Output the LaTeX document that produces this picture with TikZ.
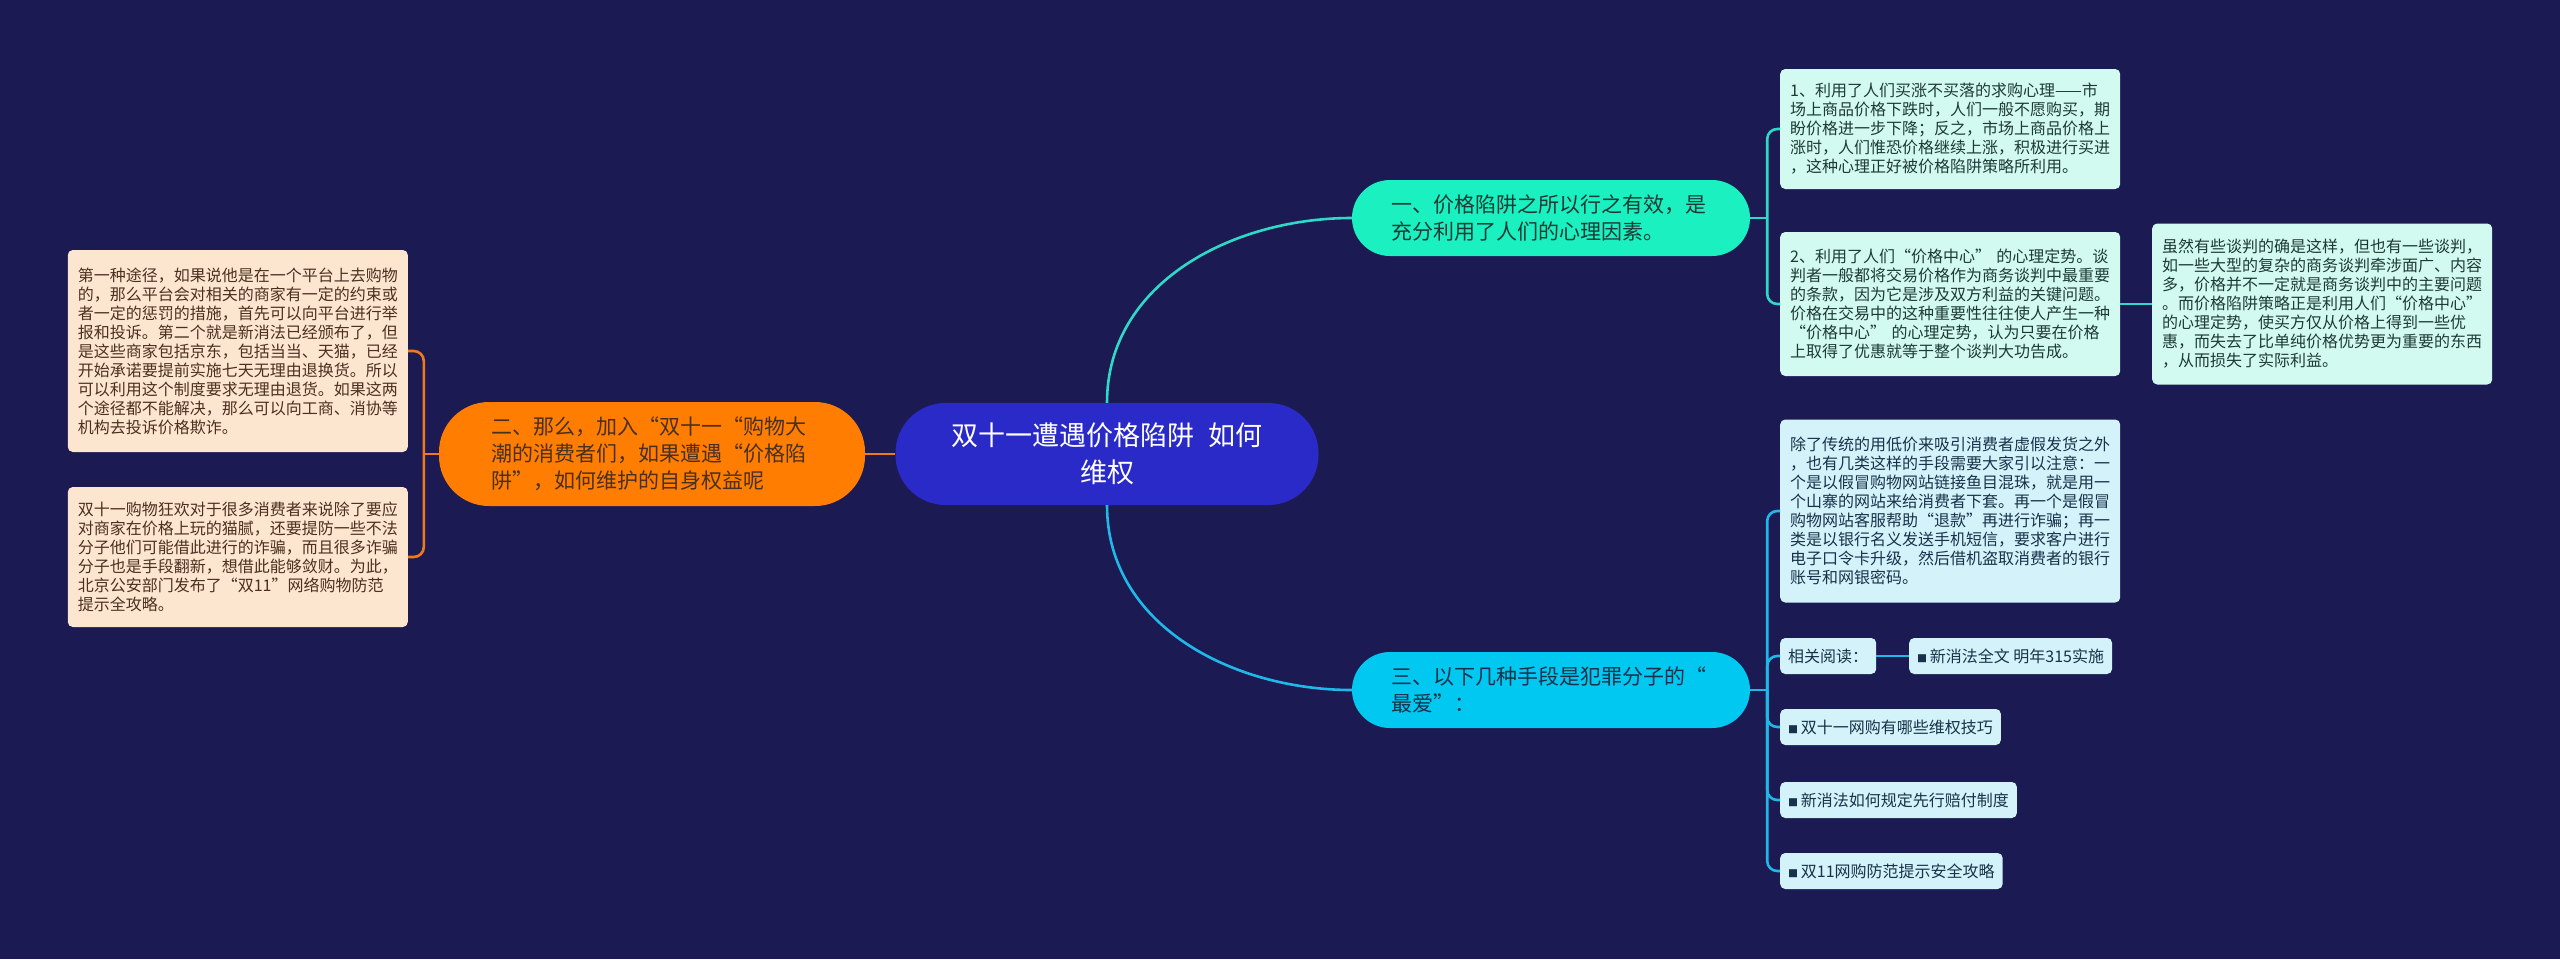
\documentclass[tikz,border=0pt]{standalone}
\usepackage{fontspec}
\setmainfont{Noto Sans CJK SC}
\usetikzlibrary{positioning,calc}
\definecolor{bgnavy}{HTML}{1B1A52}
\definecolor{rootblue}{HTML}{2A2AC8}
\definecolor{orangefill}{HTML}{FF7D00}
\definecolor{orangeline}{HTML}{F07A1A}
\definecolor{tealfill}{HTML}{1AF0C0}
\definecolor{tealline}{HTML}{30D8C8}
\definecolor{cyanfill}{HTML}{00C8F0}
\definecolor{cyanline}{HTML}{20B8E8}
\definecolor{peachnote}{HTML}{FDE6D0}
\definecolor{mintnote}{HTML}{D2FAF0}
\definecolor{skynote}{HTML}{D4F2FA}
\definecolor{browntext}{HTML}{4A3020}
\definecolor{tealtext}{HTML}{1E3A36}
\definecolor{navytext}{HTML}{17324A}
\tikzset{
  % --- topic nodes -----------------------------------------------------
  base/.style    ={align=left, inner sep=0pt},
  root/.style    ={base, fill=rootblue, text=white, align=center,
                   rounded corners=50pt, minimum width=423pt, minimum height=102pt,
                   font=\fontsize{27}{37}\selectfont},
  topic/.style   ={base, rounded corners=38pt, text width=320pt,
                   minimum width=398pt, minimum height=76pt,
                   font=\fontsize{21}{27}\selectfont},
  leftopic/.style={topic, fill=orangefill, text=browntext, rounded corners=50pt,
                   text width=322pt, minimum width=426pt, minimum height=104pt},
  % --- notes -----------------------------------------------------------
  note/.style    ={base, rounded corners=5pt, text width=320pt, inner xsep=10pt,
                   inner ysep=5pt, font=\fontsize{16}{19}\selectfont},
  tagbox/.style  ={base, rounded corners=5pt, inner xsep=8pt, inner ysep=3pt,
                   minimum height=36pt, font=\fontsize{16}{19}\selectfont},
  % --- connectors ------------------------------------------------------
  link/.style    ={line width=2.6pt, rounded corners=10pt},
}
\newcommand{\sqbullet}{{\fontsize{10}{10}\selectfont ■}\,}

\begin{document}
\begin{tikzpicture}[x=1pt, y=-1pt]

  \useasboundingbox (0,0) rectangle (2560,959);
  \fill[bgnavy] (0,0) rectangle (2560,959);

  % ============================ centre ============================
  \node[root] (root) at (1107,454)
    {双十一遭遇价格陷阱\enspace 如何\\维权};

  % ============================ left branch ============================
  \node[leftopic] (b2) at (652,454)
    {二、那么，加入“双十一“购物大\\潮的消费者们，如果遭遇“价格陷\\阱”，如何维护的自身权益呢};

  \node[note, fill=peachnote, text=browntext, minimum height=202pt, anchor=east] (l1) at (408,351)
    {第一种途径，如果说他是在一个平台上去购物\\的，那么平台会对相关的商家有一定的约束或\\者一定的惩罚的措施，首先可以向平台进行举\\报和投诉。第二个就是新消法已经颁布了，但\\是这些商家包括京东，包括当当、天猫，已经\\开始承诺要提前实施七天无理由退换货。所以\\可以利用这个制度要求无理由退货。如果这两\\个途径都不能解决，那么可以向工商、消协等\\机构去投诉价格欺诈。};
  \node[note, fill=peachnote, text=browntext, minimum height=140pt, anchor=east] (l2) at (408,557)
    {双十一购物狂欢对于很多消费者来说除了要应\\对商家在价格上玩的猫腻，还要提防一些不法\\分子他们可能借此进行的诈骗，而且很多诈骗\\分子也是手段翻新，想借此能够敛财。为此，\\北京公安部门发布了“双11”网络购物防范\\提示全攻略。};

  % ============================ upper right branch ============================
  \node[topic, fill=tealfill, text=tealtext] (b1) at (1551,218)
    {一、价格陷阱之所以行之有效，是\\充分利用了人们的心理因素。};

  \node[note, fill=mintnote, text=tealtext, minimum height=120pt, anchor=west] (c11) at (1780,129)
    {1、利用了人们买涨不买落的求购心理——市\\场上商品价格下跌时，人们一般不愿购买，期\\盼价格进一步下降；反之，市场上商品价格上\\涨时，人们惟恐价格继续上涨，积极进行买进\\，这种心理正好被价格陷阱策略所利用。};
  \node[note, fill=mintnote, text=tealtext, minimum height=144pt, anchor=west] (c12) at (1780,304)
    {2、利用了人们“价格中心” 的心理定势。谈\\判者一般都将交易价格作为商务谈判中最重要\\的条款，因为它是涉及双方利益的关键问题。\\价格在交易中的这种重要性往往使人产生一种\\“价格中心” 的心理定势，认为只要在价格\\上取得了优惠就等于整个谈判大功告成。};
  \node[note, fill=mintnote, text=tealtext, minimum height=161pt, anchor=west] (c121) at (2152,304)
    {虽然有些谈判的确是这样，但也有一些谈判，\\如一些大型的复杂的商务谈判牵涉面广、内容\\多，价格并不一定就是商务谈判中的主要问题\\。而价格陷阱策略正是利用人们“价格中心”\\的心理定势，使买方仅从价格上得到一些优\\惠，而失去了比单纯价格优势更为重要的东西\\，从而损失了实际利益。};

  % ============================ lower right branch ============================
  \node[topic, fill=cyanfill, text=navytext] (b3) at (1551,690)
    {三、以下几种手段是犯罪分子的“\\最爱”：};

  \node[note, fill=skynote, text=navytext, minimum height=183pt, anchor=west] (c31) at (1780,511)
    {除了传统的用低价来吸引消费者虚假发货之外\\，也有几类这样的手段需要大家引以注意：一\\个是以假冒购物网站链接鱼目混珠，就是用一\\个山寨的网站来给消费者下套。再一个是假冒\\购物网站客服帮助“退款”再进行诈骗；再一\\类是以银行名义发送手机短信，要求客户进行\\电子口令卡升级，然后借机盗取消费者的银行\\账号和网银密码。};
  \node[tagbox, fill=skynote, text=navytext, anchor=west] (c32) at (1780,656) {相关阅读：};
  \node[tagbox, fill=skynote, text=navytext, anchor=west] (c321) at (1909,656)
    {\sqbullet 新消法全文 明年315实施};
  \node[tagbox, fill=skynote, text=navytext, anchor=west] (c33) at (1780,727)
    {\sqbullet 双十一网购有哪些维权技巧};
  \node[tagbox, fill=skynote, text=navytext, anchor=west] (c34) at (1780,800)
    {\sqbullet 新消法如何规定先行赔付制度};
  \node[tagbox, fill=skynote, text=navytext, anchor=west] (c35) at (1780,871)
    {\sqbullet 双11网购防范提示安全攻略};

  % ============================ connectors ============================
  \draw[link, draw=orangeline] (root.west) -- (b2.east);
  \draw[link, draw=tealline] (root.north) to[out=90, in=180] (b1.west);
  \draw[link, draw=cyanline] (root.south) to[out=-90, in=180] (b3.west);

  % left bracket
  \draw[link, draw=orangeline] (b2.west) -- ++(-15,0) coordinate (lhub);
  \draw[link, draw=orangeline] (lhub) |- (l1.east);
  \draw[link, draw=orangeline] (lhub) |- (l2.east);

  % upper right bracket
  \draw[link, draw=tealline] (b1.east) -- ++(17,0) coordinate (uhub);
  \draw[link, draw=tealline] (uhub) |- (c11.west);
  \draw[link, draw=tealline] (uhub) |- (c12.west);
  \draw[link, draw=tealline] (c12.east) -- (c121.west);

  % lower right bracket
  \draw[link, draw=cyanline] (b3.east) -- ++(17,0) coordinate (dhub);
  \foreach \leaf in {c31,c32,c33,c34,c35}
    \draw[link, draw=cyanline] (dhub) |- (\leaf.west);
  \draw[link, draw=cyanline] (c32.east) -- (c321.west);

\end{tikzpicture}
\end{document}
